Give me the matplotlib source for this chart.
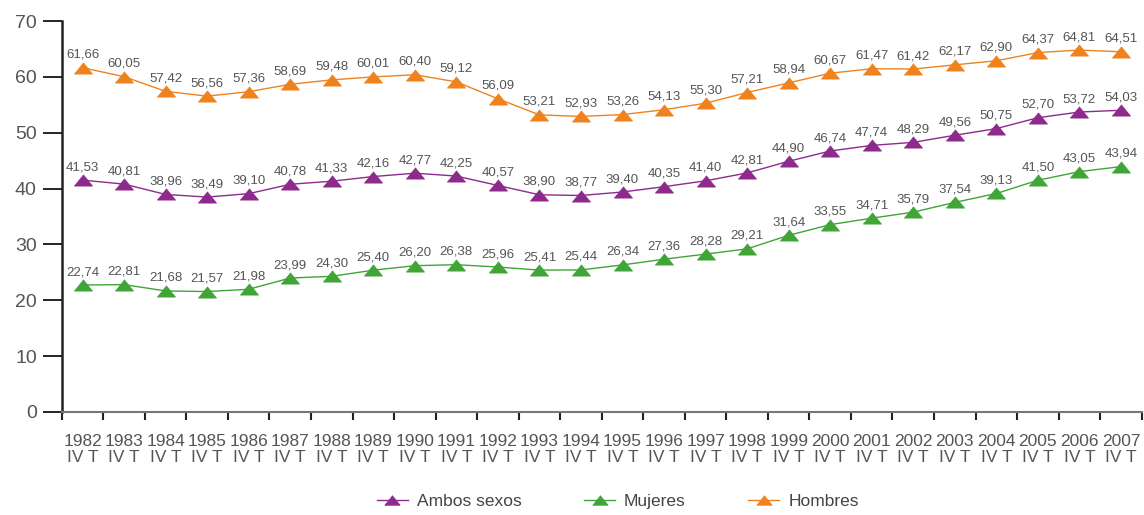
import numpy as np
import matplotlib.pyplot as plt

plt.rcParams['font.family'] = ['Liberation Sans', 'DejaVu Sans']

years = [str(y) for y in range(1982, 2008)]
hombres = [61.66, 60.05, 57.42, 56.56, 57.36, 58.69, 59.48, 60.01, 60.40, 59.12,
           56.09, 53.21, 52.93, 53.26, 54.13, 55.30, 57.21, 58.94, 60.67, 61.47,
           61.42, 62.17, 62.90, 64.37, 64.81, 64.51]
ambos = [41.53, 40.81, 38.96, 38.49, 39.10, 40.78, 41.33, 42.16, 42.77, 42.25,
         40.57, 38.90, 38.77, 39.40, 40.35, 41.40, 42.81, 44.90, 46.74, 47.74,
         48.29, 49.56, 50.75, 52.70, 53.72, 54.03]
mujeres = [22.74, 22.81, 21.68, 21.57, 21.98, 23.99, 24.30, 25.40, 26.20, 26.38,
           25.96, 25.41, 25.44, 26.34, 27.36, 28.28, 29.21, 31.64, 33.55, 34.71,
           35.79, 37.54, 39.13, 41.50, 43.05, 43.94]

fig = plt.figure(figsize=(11.44, 5.15), dpi=100)
ax = fig.add_axes([0.054, 0.2, 0.944, 0.759])

x = np.arange(len(years))
series = [("Ambos sexos", ambos, "#8E2A8C"),
          ("Mujeres", mujeres, "#3FA537"),
          ("Hombres", hombres, "#F0821E")]

# flat triangle like the original
tri = [(-1, -0.62), (1, -0.62), (0, 0.62), (-1, -0.62)]

for name, vals, col in series:
    ax.plot(x, vals, color=col, lw=1, marker=tri, markersize=13,
            markeredgewidth=0.5, markeredgecolor=col, label=name)
    for xi, v in zip(x, vals):
        ax.annotate(f"{v:.2f}".replace(".", ","), (xi, v), xytext=(0, 5),
                    textcoords="offset points", ha="center", va="bottom",
                    fontsize=9.5, color="#555555")

ax.set_xlim(-0.5, len(years) - 0.5)
ax.set_ylim(0, 70)
ax.set_yticks(range(0, 71, 10))
ax.tick_params(axis="y", length=14, width=1.2, labelsize=14, labelcolor="#555555",
               pad=4)

# category ticks at boundaries, labels in the middle
ax.set_xticks(np.arange(-0.5, len(years)), minor=False)
ax.set_xticklabels([])
ax.set_xticks(x, minor=True)
ax.set_xticklabels([y + "\nIV T" for y in years], minor=True)
ax.tick_params(axis="x", which="major", length=6, width=1.5, color="#222222")
ax.tick_params(axis="x", which="minor", length=0, labelsize=12.5,
               labelcolor="#555555", pad=16)
for lab in ax.get_xticklabels(minor=True):
    lab.set_linespacing(1.05)

for s in ["top", "right"]:
    ax.spines[s].set_visible(False)
ax.spines["left"].set_linewidth(1.8)
ax.spines["left"].set_color("#222222")
ax.spines["bottom"].set_color("#777777")
ax.spines["bottom"].set_linewidth(1.5)

fig.legend(loc="lower center", bbox_to_anchor=(0.54, -0.018), ncol=3,
           frameon=False, fontsize=12.5, columnspacing=3.6, handlelength=1.8,
           handletextpad=0.5, markerscale=0.85, labelcolor="#444444")

fig.savefig("out.png", dpi=100)
